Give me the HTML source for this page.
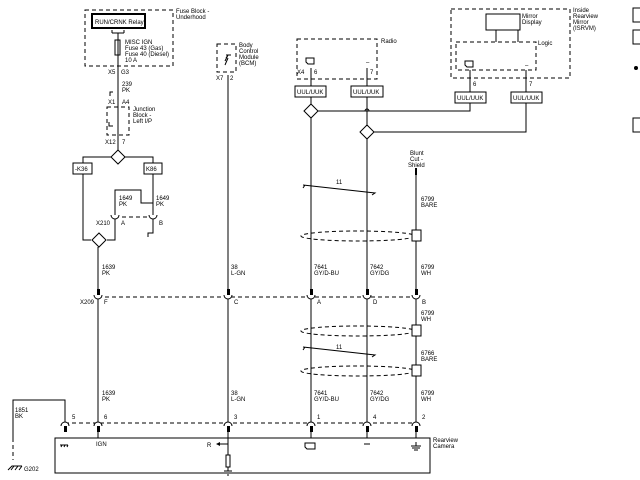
<!DOCTYPE html><html><head><style>body{margin:0;background:#fff}svg{display:block}text{font-family:"Liberation Sans",sans-serif;font-size:6px;fill:#000}</style></head><body>
<svg width="640" height="480" viewBox="0 0 640 480" xmlns="http://www.w3.org/2000/svg">
<g fill="none" stroke="#000" stroke-width="1">
<g stroke-dasharray="4,3">
<rect x="85" y="10" width="88" height="56"/>
<rect x="107" y="107" width="22" height="28"/>
<rect x="217" y="44" width="19" height="28"/>
<rect x="297" y="39" width="80" height="40"/>
<rect x="451" y="9" width="119" height="69"/>
<rect x="456" y="42" width="80" height="28"/>
<line x1="115" y1="217" x2="153" y2="217"/>
<line x1="98" y1="297" x2="416" y2="297"/>
<line x1="65" y1="423" x2="416" y2="423"/>
<line x1="13" y1="438" x2="13" y2="460"/>
<ellipse cx="358" cy="236" rx="57" ry="5"/>
<ellipse cx="358" cy="331" rx="57" ry="5"/>
<ellipse cx="358" cy="371" rx="57" ry="5"/>
</g>
<rect x="92" y="14" width="53" height="14" stroke-width="2"/>
<rect x="115" y="40" width="5" height="15"/>
<path d="M112 33h12M112 33v-3M124 33v-3"/>
<path d="M118 33V157"/>
<rect x="73" y="163" width="19" height="11"/><rect x="144" y="163" width="18" height="11"/>
<path d="M83 163V157H153V163M83 174V240H91M107 240H115V217M153 174V215M115 217V190H141V203H153"/>
<path d="M118 150l7 7-7 7-7-7z" fill="#fff"/>
<path d="M99 233l7 7-7 7-7-7z" fill="#fff"/>
<path d="M153 219v14h-5v4"/>
<path d="M110 96v-4h3M113 126h-4v-4"/>
<path d="M98 247V438M228 75V438M311 68V438M367 68V438M416 174V438"/>
<path d="M226 58l2-3l-3 6M226 55h5M228 58l-3 7"/>
<rect x="295" y="86" width="31" height="11" fill="#fff"/><rect x="351" y="86" width="32" height="11" fill="#fff"/>
<rect x="455" y="92" width="31" height="11" fill="#fff"/><rect x="511" y="92" width="31" height="11" fill="#fff"/>
<path d="M470 70V92M526 70V92M470 103V111H318M365 111a2 2 0 0 1 4 0M526 103V132H374"/>
<path d="M311 104l7 7-7 7-7-7z" fill="#fff"/><path d="M367 125l7 7-7 7-7-7z" fill="#fff"/>
<rect x="486" y="14" width="34" height="16"/><path d="M496 30v12M518 30v12"/>
<path d="M306 58h8v6h-6l-2-2z"/><path d="M465 61h8v6h-6l-2-2z"/>
<path d="M305 443h10v6h-8l-2-2z"/>
<path d="M303 188l2-3M303 185l72 8l-3 2"/><path d="M303 350l2-3M303 347l72 8l-3 2"/>
<rect x="412" y="230" width="9" height="11" fill="#fff"/><rect x="412" y="325" width="9" height="11" fill="#fff"/><rect x="412" y="365" width="9" height="11" fill="#fff"/>
<path d="M416 168v7" stroke-width="2"/>
<rect x="55" y="438" width="375" height="35"/>
<path d="M65 423V400H13V438"/>
<path d="M8 470l4-4h10M11 470l3-4M15 470l3-4M19 470l3-4"/>
<path d="M60 445h8M62 445l-1 2M65 445l-1 2M68 445l-1 2"/>
<path d="M228 438V455M217 444h11M226 455v12h4v-12z"/><path d="M228 467v4M224 471h8M225 473h6M227 475h2"/>
<path d="M411 446h10M412 448h8M414 450h4M416 442v4"/>
<path d="M364 444h6"/>
<rect x="633" y="8" width="10" height="14"/><rect x="633" y="30" width="10" height="14"/><rect x="633" y="118" width="10" height="14"/>
</g>
<path d="M216 444l4-2v4z" fill="#000"/>
<g fill="#fff" stroke="#000" stroke-width="1">
<path d="M94 295a4 4 0 0 0 8 0M224 295a4 4 0 0 0 8 0M307 295a4 4 0 0 0 8 0M363 295a4 4 0 0 0 8 0M412 295a4 4 0 0 0 8 0"/>
<path d="M111 215a4 4 0 0 0 8 0M149 215a4 4 0 0 0 8 0"/>
<path d="M61 426a4 4 0 0 1 8 0M94 426a4 4 0 0 1 8 0M224 426a4 4 0 0 1 8 0M307 426a4 4 0 0 1 8 0M363 426a4 4 0 0 1 8 0M412 426a4 4 0 0 1 8 0"/>
</g>
<g fill="#000"><rect x="97" y="289" width="3" height="6"/><rect x="227" y="289" width="3" height="6"/><rect x="310" y="289" width="3" height="6"/><rect x="366" y="289" width="3" height="6"/><rect x="415" y="289" width="3" height="6"/>
<rect x="64" y="426" width="3" height="6"/><rect x="97" y="426" width="3" height="6"/><rect x="227" y="426" width="3" height="6"/><rect x="310" y="426" width="3" height="6"/><rect x="366" y="426" width="3" height="6"/><rect x="415" y="426" width="3" height="6"/>
<circle cx="636" cy="68" r="2"/></g>
<text x="95" y="24">RUN/CRNK Relay</text>
<text x="176" y="13">Fuse Block -</text><text x="176" y="19">Underhood</text>
<text x="125" y="44">MISC IGN</text><text x="125" y="50">Fuse 43 (Gas)</text><text x="125" y="56">Fuse 40 (Diesel)</text><text x="125" y="62">10 A</text>
<text x="108" y="74">X5</text><text x="121" y="74">G3</text>
<text x="122" y="86">239</text><text x="122" y="92">PK</text>
<text x="108" y="104">X1</text><text x="122" y="104">A4</text>
<text x="133" y="111">Junction</text><text x="133" y="117">Block -</text><text x="133" y="123">Left I/P</text>
<text x="105" y="144">X12</text><text x="122" y="144">7</text>
<text x="75" y="171">-K36</text><text x="146" y="171">K86</text>
<text x="119" y="200">1649</text><text x="119" y="206">PK</text><text x="156" y="200">1649</text><text x="156" y="206">PK</text>
<text x="96" y="225">X210</text><text x="121" y="225">A</text><text x="159" y="225">B</text>
<text x="239" y="47">Body</text><text x="239" y="53">Control</text><text x="239" y="59">Module</text><text x="239" y="65">(BCM)</text>
<text x="216" y="80">X7</text><text x="230" y="80">2</text>
<text x="381" y="43">Radio</text><text x="297" y="74">X4</text><text x="314" y="74">6</text><text x="370" y="74">7</text><text x="366" y="64">–</text>
<text x="297" y="94">UUL/UUK</text><text x="353" y="94">UUL/UUK</text><text x="457" y="100">UUL/UUK</text><text x="513" y="100">UUL/UUK</text>
<text x="522" y="18">Mirror</text><text x="522" y="24">Display</text><text x="538" y="45">Logic</text><text x="525" y="67">–</text>
<text x="473" y="86">6</text><text x="529" y="86">7</text>
<text x="573" y="12">Inside</text><text x="573" y="18">Rearview</text><text x="573" y="24">Mirror</text><text x="573" y="30">(ISRVM)</text>
<text x="410" y="155">Blunt</text><text x="410" y="161">Cut -</text><text x="408" y="167">Shield</text>
<text x="421" y="201">6799</text><text x="421" y="207">BARE</text>
<text x="336" y="184">11</text><text x="336" y="349">11</text>
<text x="102" y="269">1639</text><text x="102" y="275">PK</text><text x="231" y="269">38</text><text x="231" y="275">L-GN</text>
<text x="314" y="269">7641</text><text x="314" y="275">GY/D-BU</text><text x="370" y="269">7642</text><text x="370" y="275">GY/DG</text><text x="421" y="269">6799</text><text x="421" y="275">WH</text>
<text x="80" y="304">X209</text><text x="104" y="304">F</text><text x="234" y="304">C</text><text x="317" y="304">A</text><text x="373" y="304">D</text><text x="422" y="304">B</text>
<text x="421" y="315">6799</text><text x="421" y="321">WH</text><text x="421" y="355">6766</text><text x="421" y="361">BARE</text>
<text x="102" y="395">1639</text><text x="102" y="401">PK</text><text x="231" y="395">38</text><text x="231" y="401">L-GN</text>
<text x="314" y="395">7641</text><text x="314" y="401">GY/D-BU</text><text x="370" y="395">7642</text><text x="370" y="401">GY/DG</text><text x="421" y="395">6799</text><text x="421" y="401">WH</text>
<text x="15" y="412">1851</text><text x="15" y="418">BK</text>
<text x="72" y="419">5</text><text x="104" y="419">6</text><text x="234" y="419">3</text><text x="317" y="419">1</text><text x="373" y="419">4</text><text x="422" y="419">2</text>
<text x="96" y="446">IGN</text><text x="207" y="447">R</text><text x="366" y="446">–</text>
<text x="433" y="442">Rearview</text><text x="433" y="448">Camera</text>
<text x="24" y="471">G202</text>
</svg></body></html>
